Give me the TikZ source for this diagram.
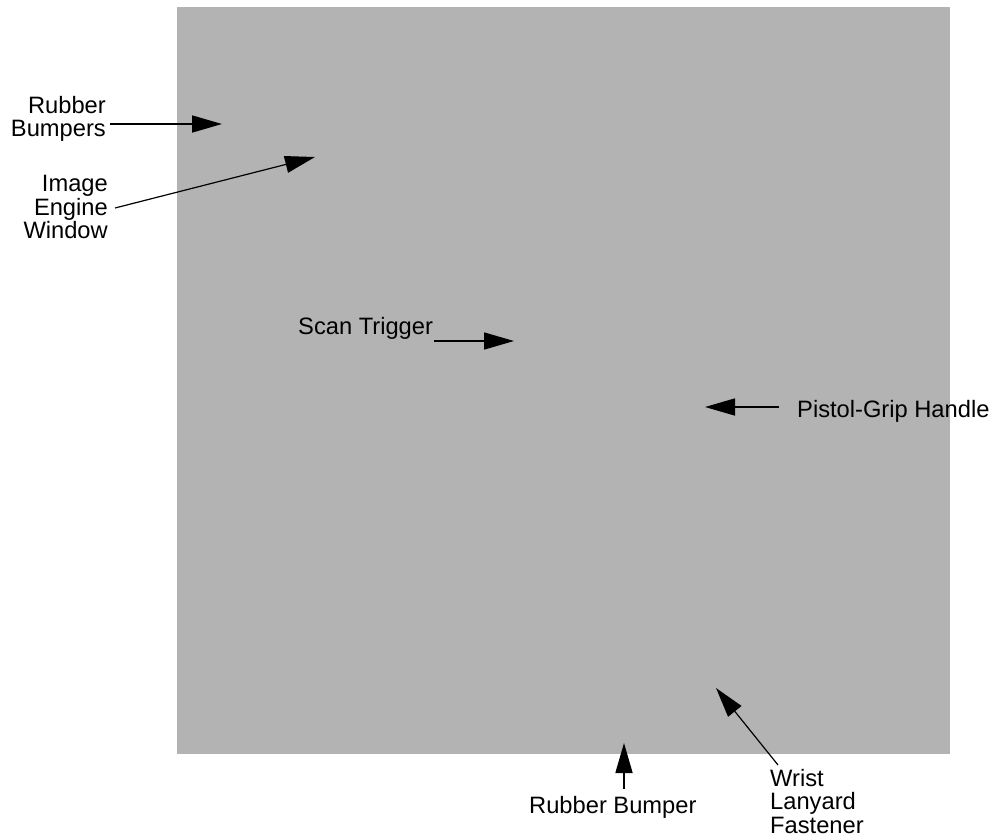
\documentclass[tikz,border=0pt]{standalone}
\usepackage{fontspec}
\setmainfont{Liberation Sans}
\usetikzlibrary{arrows.meta}
\definecolor{bodygray}{RGB}{179,179,179}
\tikzset{
  lbl/.style={inner sep=0pt, font=\fontsize{23.7}{23.5}\selectfont},
  callout/.style={line width=1.6pt, -{Triangle[length=30pt,width=17pt]}},
}
\begin{document}
\begin{tikzpicture}[x=1pt,y=-1pt]
\useasboundingbox (0,0) rectangle (993,836);
\fill[bodygray] (177,7) rectangle (950,754);
% labels
\node[lbl, align=right, anchor=north east] (rb) at (106,96) {Rubber\\Bumpers};
\node[lbl, align=right, anchor=north east] (iew) at (108,175) {Image\\Engine\\Window};
\node[lbl, anchor=base west] (st) at (298,334) {Scan Trigger};
\node[lbl, anchor=base west] (pg) at (797,417) {Pistol-Grip Handle};
\node[lbl, anchor=base west] (rb2) at (529,813) {Rubber Bumper};
\node[lbl, align=left, anchor=north west] (wlf) at (770,769) {Wrist\\Lanyard\\Fastener};
% arrow end points
\coordinate (rbS) at (110,124);
\coordinate (rbT) at (222,124);
\coordinate (iewS) at (115,208);
\coordinate (iewT) at (315,157);
\coordinate (stS) at (434,341);
\coordinate (stT) at (514,341);
\coordinate (pgS) at (779,407);
\coordinate (pgT) at (705,407);
\coordinate (rb2S) at (624,789);
\coordinate (rb2T) at (624,743);
\coordinate (wlfS) at (778,765);
\coordinate (wlfT) at (716,688);
% connectors
\draw[callout] (rbS) -- (rbT);
\draw[callout, line width=1.2pt] (iewS) -- (iewT);
\draw[callout] (stS) -- (stT);
\draw[callout] (pgS) -- (pgT);
\draw[callout] (rb2S) -- (rb2T);
\draw[callout, line width=1.2pt] (wlfS) -- (wlfT);
\end{tikzpicture}
\end{document}
